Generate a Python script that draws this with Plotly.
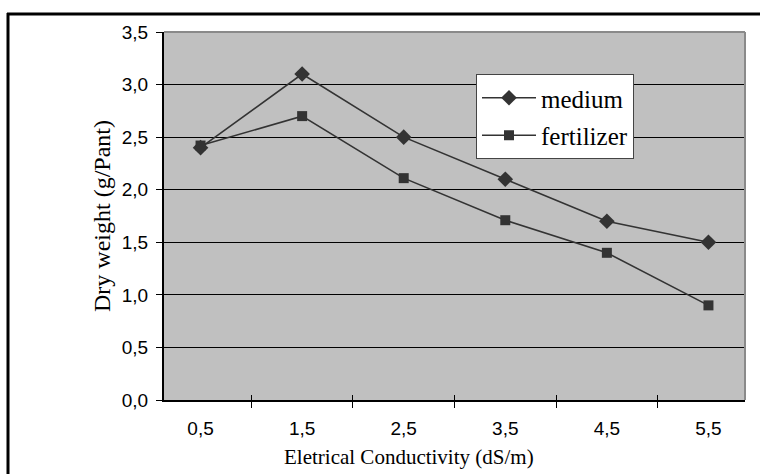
import plotly.graph_objects as go

categories = ["0,5", "1,5", "2,5", "3,5", "4,5", "5,5"]
medium = [2.40, 3.10, 2.50, 2.10, 1.70, 1.50]
fertilizer = [2.42, 2.70, 2.11, 1.71, 1.40, 0.90]

W, H = 760, 474
ML, MR, MT, MB = 164, 15, 32, 74
PW, PH = W - ML - MR, H - MT - MB

def px(xp):
    return (xp - ML) / PW

def py(yp):
    return (H - MB - yp) / PH

dark = "#333333"
serif = "Liberation Serif, Times New Roman, serif"
sans = "Liberation Sans, Arial, sans-serif"

fig = go.Figure()
fig.add_trace(go.Scatter(
    x=categories, y=medium, name="medium", mode="lines+markers",
    line=dict(color=dark, width=1.6),
    marker=dict(symbol="diamond", size=12, color=dark),
    legendgroup="a",
))
fig.add_trace(go.Scatter(
    x=categories, y=fertilizer, name="fertilizer", mode="lines+markers",
    line=dict(color=dark, width=1.6),
    marker=dict(symbol="square", size=10, color=dark),
    legendgroup="b",
))
# invisible trace to carry the inner tick marks axis
fig.add_trace(go.Scatter(
    x=categories, y=medium, xaxis="x2", mode="lines", opacity=0,
    showlegend=False, hoverinfo="skip",
))

fig.update_layout(
    width=W, height=H,
    margin=dict(l=ML, r=MR, t=MT, b=MB),
    paper_bgcolor="white",
    plot_bgcolor="#C0C0C0",
    separators=",.",
    font=dict(family=serif, color="black"),
    showlegend=True,
    legend=dict(
        x=px(476), y=py(74), xanchor="left", yanchor="top",
        bgcolor="white", bordercolor="#444444", borderwidth=1,
        font=dict(family=serif, size=25, color="black"),
        traceorder="grouped", tracegroupgap=2,
        itemwidth=54,
    ),
    xaxis=dict(
        type="category", categoryorder="array", categoryarray=categories,
        tickson="boundaries", ticks="outside", ticklen=6, tickcolor="black",
        tickwidth=1,
        showline=True, linecolor="black", linewidth=2,
        showgrid=False, zeroline=False,
        tickfont=dict(family=sans, size=19, color="black"),
        ticklabelstandoff=10,
    ),
    xaxis2=dict(
        type="category", categoryorder="array", categoryarray=categories,
        overlaying="x", matches="x", anchor="y", side="bottom",
        tickson="boundaries", ticks="inside", ticklen=5, tickcolor="black",
        tickwidth=1,
        showticklabels=False, showline=False, showgrid=False, zeroline=False,
    ),
    yaxis=dict(
        range=[0, 3.5], dtick=0.5, tickformat=".1f",
        ticks="outside", ticklen=6, tickcolor="black",
        showline=True, linecolor="black", linewidth=2,
        showgrid=True, gridcolor="black", gridwidth=1,
        zeroline=False,
        tickfont=dict(family=sans, size=19, color="black"),
        ticklabelstandoff=4,
    ),
    shapes=[
        # plot frame top and right (gray)
        dict(type="line", xref="paper", yref="paper", x0=0, x1=1, y0=1, y1=1,
             line=dict(color="#8a8a8a", width=2)),
        dict(type="line", xref="paper", yref="paper", x0=1, x1=1, y0=0, y1=1,
             line=dict(color="#8a8a8a", width=2)),
        # outer figure border top and left
        dict(type="line", xref="paper", yref="paper", x0=px(7), x1=px(760),
             y0=py(14), y1=py(14), line=dict(color="black", width=3)),
        dict(type="line", xref="paper", yref="paper", x0=px(8), x1=px(8),
             y0=py(13), y1=py(474), line=dict(color="black", width=3)),
    ],
    annotations=[
        dict(text="Eletrical Conductivity (dS/m)", xref="paper", yref="paper",
             x=px(409), y=0, xanchor="center", yanchor="middle", yshift=-57,
             showarrow=False,
             font=dict(family=serif, size=21, color="black")),
        dict(text="Dry weight (g/Pant)", xref="paper", yref="paper",
             x=px(102), y=0.5, xanchor="center", yanchor="middle",
             textangle=-90, showarrow=False,
             font=dict(family=serif, size=24, color="black")),
    ],
)

fig.write_html("out.html")
